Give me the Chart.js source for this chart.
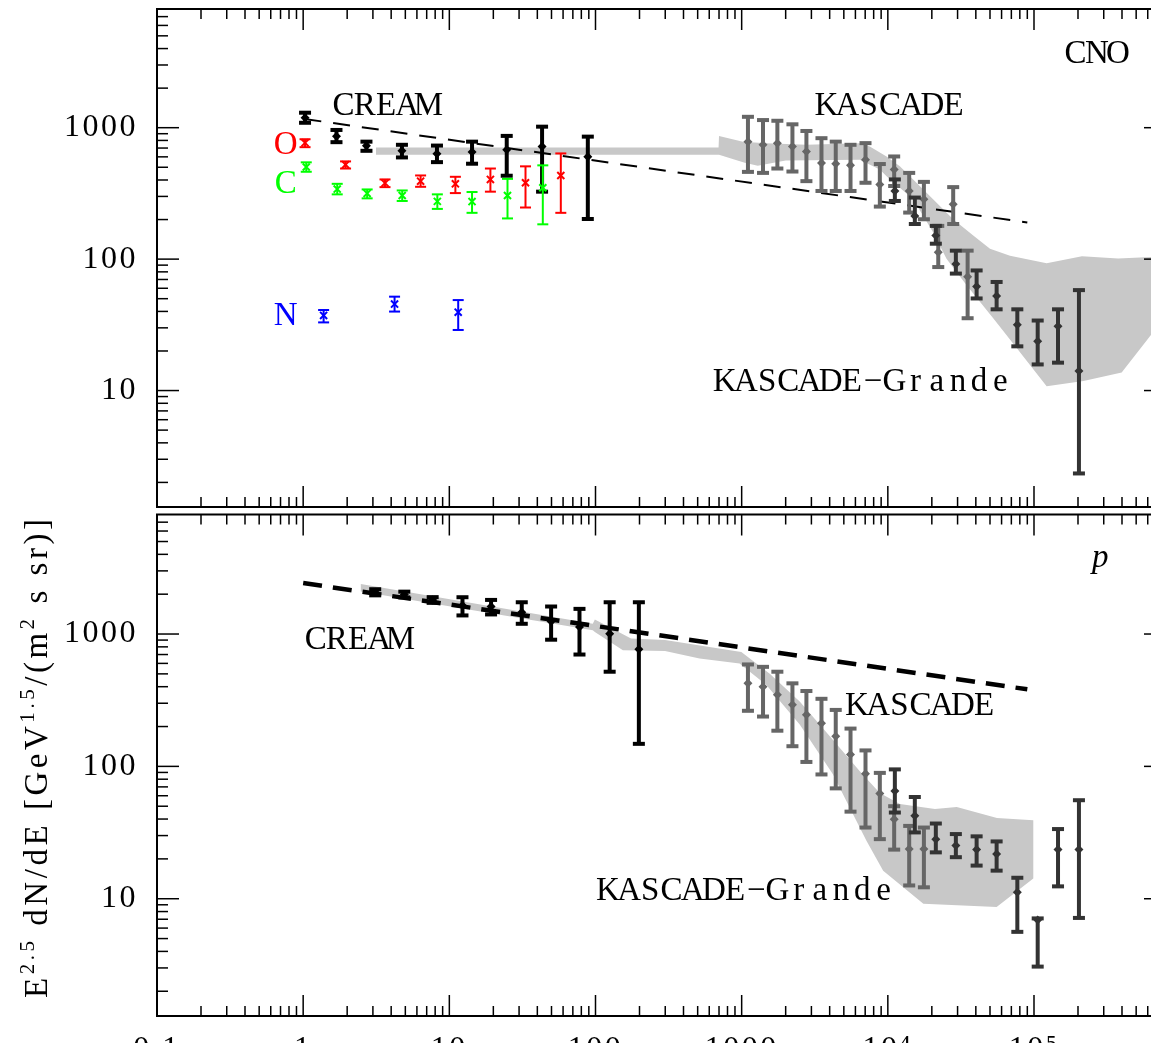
<!DOCTYPE html>
<html>
<head>
<meta charset="utf-8">
<script src="https://cdn.jsdelivr.net/npm/chart.js@4.4.1/dist/chart.umd.min.js"></script>
<style>
  html, body { margin: 0; padding: 0; background: #fff; overflow: hidden; width: 1151px; height: 1043px; }
  canvas { position: absolute; left: 0; }
  #cno { top: 0; }
  #proton { top: 510px; }
</style>
</head>
<body>
<canvas id="cno" width="1180" height="514"></canvas>
<canvas id="proton" width="1180" height="560"></canvas>
<script>
// ---------- axes (energy per particle in TeV, flux E^2.5 dN/dE) ----------
const energyMin = 0.1, energyMax = 8e5;
const fluxMin = 1.3, fluxMax = 8000;
const energyTicks = [0.1, 1, 10, 100, 1000, 1e4, 1e5];
const energyTickText = ['0.1', '1', '10', '100', '1000', '10⁴', '10⁵'];
const fluxTicks = [10, 100, 1000];

// ---------- CNO panel ----------
const cnoCreamE  = [1.03, 1.69, 2.71, 4.74, 8.23, 14.3, 24.7, 43.1, 88.6];
const cnoCreamF  = [1190, 861, 728, 667, 634, 653, 680, 720, 601];
const cnoCreamHi = [1300, 961, 783, 741, 731, 783, 866, 1018, 855];
const cnoCreamLo = [1090, 776, 667, 594, 547, 532, 431, 326, 202];

const oxygenE  = [1.03, 1.95, 3.63, 6.36, 11.0, 19.1, 33.2, 57.9];
const oxygenF  = [767, 523, 379, 392, 374, 404, 381, 433];
const oxygenHi = [817, 554, 404, 433, 423, 489, 508, 637];
const oxygenLo = [711, 489, 353, 355, 318, 326, 247, 225];

const carbonE  = [1.05, 1.71, 2.74, 4.76, 8.28, 14.3, 25.0, 43.6];
const carbonF  = [502, 341, 316, 305, 275, 274, 305, 349];
const carbonHi = [545, 374, 339, 333, 311, 324, 408, 517];
const carbonLo = [462, 311, 290, 277, 241, 225, 204, 184];

const nitrogenE  = [1.38, 4.22, 11.5];
const nitrogenF  = [37.3, 45.5, 39.5];
const nitrogenHi = [41.0, 51.8, 48.8];
const nitrogenLo = [33.0, 39.9, 28.9];

const kascadeE     = [1104, 1400, 1755, 2225, 2773, 3516, 4402, 5556, 7035, 8816, 11050, 14000, 17650, 22130, 28000, 35150];
const cnoKascadeF  = [783, 741, 763, 719, 659, 539, 532, 517, 571, 370, 480, 330, 285, 113, 261, 73.3];
const cnoKascadeHi = [1210, 1143, 1129, 1061, 944, 832, 783, 741, 763, 529, 604, 453, 387, 179, 353, 116];
const cnoKascadeLo = [461, 453, 489, 464, 392, 330, 330, 330, 381, 251, 360, 226, 201, 87, 185, 35.5];

const grandeE     = [11170, 15300, 21300, 29200, 40500, 55500, 76900, 106000, 146000, 203000];
const cnoGrandeF  = [330, 213, 151, 92, 62, 52.5, 31.6, 23.7, 30.8, 14.1];
const cnoGrandeHi = [404, 294, 179, 116, 82, 67, 41.5, 34.1, 41.5, 58.1];
const cnoGrandeLo = [277, 185, 131, 77.6, 50.2, 41.5, 21.7, 15.8, 16.3, 2.34];

const cnoFitE = [1.02, 9e4];
const cnoFitF = [1165, 190];

const cnoBandUpperE = [3.15, 695, 700, 1020, 1476, 2773, 6430, 7530, 9800, 12080, 15700, 20400, 28000, 38400, 50000, 68500, 122000, 213000, 376000, 631000, 8e5];
const cnoBandUpperF = [706, 706, 866, 783, 763, 741, 763, 719, 604, 508, 381, 285, 201, 151, 120, 106, 93, 105, 101, 104, 104];
const cnoBandLowerE = [3.15, 700, 1049, 1288, 2000, 6430, 8810, 9800, 14900, 20400, 25200, 34600, 52600, 76100, 122000, 218000, 398000, 631000, 8e5];
const cnoBandLowerF = [622, 622, 540, 514, 564, 571, 480, 428, 285, 160, 100.7, 63.2, 35.5, 21.1, 10.8, 11.8, 13.7, 26.5, 36];

// ---------- proton panel ----------
const pCreamE  = [3.11, 4.92, 7.69, 12.3, 19.3, 31.3, 49.7, 77.7, 125, 198];
const pCreamF  = [2067, 1986, 1811, 1642, 1614, 1462, 1245, 1129, 1005, 767];
const pCreamHi = [2180, 2090, 1900, 1897, 1810, 1738, 1614, 1549, 1738, 1738];
const pCreamLo = [1960, 1890, 1720, 1382, 1406, 1195, 906, 700, 519, 148];

const pKascadeE  = [1104, 1400, 1755, 2225, 2773, 3516, 4402, 5556, 7035, 8816, 11050, 14000, 17650];
const pKascadeF  = [424, 400, 347, 292, 245, 212, 169, 123, 87.9, 62.3, 39.9, 23.8, 23.8];
const pKascadeHi = [589, 565, 519, 424, 371, 324, 267, 193, 132, 89.3, 50, 35.5, 34.5];
const pKascadeLo = [263, 238, 186, 142, 108, 86.9, 68.2, 45.5, 34.5, 28.2, 23.5, 12.6, 12.2];

const pGrandeF  = [65.2, 42.3, 28.2, 25.2, 23.5, 21.8, 11.2, 6.9, 23.5, 23.5];
const pGrandeHi = [94.9, 58.7, 37, 30.8, 29.6, 27.1, 14.4, 7.1, 33.6, 55.5];
const pGrandeLo = [44.8, 31.7, 22.4, 20.6, 17.8, 16.3, 5.62, 3.07, 12.4, 7.16];

const pFitE = [1.0, 9e4];
const pFitF = [2427, 382];

const pBandUpperE = [2.48, 95.8, 99, 175, 299, 995, 1556, 2495, 4010, 6430, 8810, 12100, 21000, 29600, 55800, 98900];
const pBandUpperF = [2388, 1195, 1289, 927, 900, 733, 501, 309, 169, 92, 63, 52, 47.7, 49.4, 40.8, 39.2];
const pBandLowerE = [2.48, 95.8, 99, 154, 299, 515, 968, 1476, 2495, 4220, 5490, 7140, 9290, 17500, 55500, 98900];
const pBandLowerF = [2094, 1066, 1035, 755, 745, 653, 598, 412, 207, 86.9, 48.7, 27.4, 16.3, 9.18, 8.67, 14.2];

// ---------- colours ----------
const BAND = '#c8c8c8', GREY = '#666666', DARK = '#333333', BLACK = '#000000';
const RED = '#ff0000', GREEN = '#00ff00', BLUE = '#0000ff';

// ---------- text annotations (anchored in data coordinates) ----------
const cnoNotes = [
  { text: 'CNO', x: 163000, y: 3126 },
  { text: 'CREAM', x: 1.6, y: 1247 },
  { text: 'KASCADE', x: 3210, y: 1247 },
  { text: 'KASCADE−Grande', x: 648, y: 9.95 },
  { text: 'O', x: 0.643, y: 634, color: RED },
  { text: 'C', x: 0.643, y: 316, color: GREEN },
  { text: 'N', x: 0.643, y: 31.6, color: BLUE }
];
const protonNotes = [
  { text: 'p', x: 240000, y: 3186, italic: true },
  { text: 'CREAM', x: 1.03, y: 776 },
  { text: 'KASCADE', x: 5200, y: 245 },
  { text: 'KASCADE−Grande', x: 102.8, y: 9.8 }
];

// ---------- dataset builders ----------
const pts = (E, F) => E.map((e, i) => ({ x: e, y: F[i] }));

function heavySeries(E, F, hi, lo, color, order) {
  return { data: pts(E, F), errHi: hi, errLo: lo, showLine: false,
    borderColor: color, backgroundColor: color, pointStyle: 'rectRot', pointRadius: 4.5,
    pointBorderWidth: 0, errWidth: 4, capWidth: 12, capThick: 4, order };
}
function lightSeries(E, F, hi, lo, color, order) {
  return { data: pts(E, F), errHi: hi, errLo: lo, showLine: false,
    borderColor: color, backgroundColor: color, pointStyle: 'crossRot', pointRadius: 5,
    pointBorderWidth: 2, errWidth: 2, capWidth: 11, capThick: 2, order };
}
function band(upE, upF, loE, loF) {
  const ring = pts(upE, upF).concat(pts(loE, loF).reverse());
  return { data: ring, showLine: true, fill: 'shape', backgroundColor: BAND,
    borderColor: 'rgba(0,0,0,0)', borderWidth: 0, pointRadius: 0, tension: 0, order: 20 };
}
function fitLine(E, F, width, dash) {
  return { data: pts(E, F), showLine: true, fill: false, borderColor: BLACK, borderWidth: width,
    borderDash: dash, pointRadius: 0, tension: 0, order: 15 };
}

// ---------- plugins ----------
const textCell = 21.2;
const labelFont = { family: 'Liberation Serif', size: 32 };

const errorBars = {
  id: 'errorBars',
  afterDatasetDraw(chart, args) {
    const ds = chart.data.datasets[args.index];
    if (!ds.errHi) return;
    const { ctx, chartArea: a, scales: { x, y } } = chart;
    ctx.save();
    ctx.beginPath();
    ctx.rect(a.left, a.top, a.right - a.left, a.bottom - a.top);
    ctx.clip();
    ctx.strokeStyle = ds.borderColor;
    ctx.fillStyle = ds.borderColor;
    ctx.lineWidth = ds.errWidth;
    ds.data.forEach((p, i) => {
      const px = x.getPixelForValue(p.x);
      const yh = y.getPixelForValue(ds.errHi[i]);
      const yl = y.getPixelForValue(ds.errLo[i]);
      ctx.beginPath(); ctx.moveTo(px, yh); ctx.lineTo(px, yl); ctx.stroke();
      ctx.fillRect(px - ds.capWidth / 2, yh - ds.capThick / 2, ds.capWidth, ds.capThick);
      ctx.fillRect(px - ds.capWidth / 2, yl - ds.capThick / 2, ds.capWidth, ds.capThick);
    });
    ctx.restore();
  }
};

function drawNotes(chart, notes) {
  const { ctx, scales: { x, y } } = chart;
  ctx.save();
  ctx.letterSpacing = '0px';
  ctx.textAlign = 'center';
  ctx.textBaseline = 'alphabetic';
  notes.forEach(n => {
    ctx.font = (n.italic ? 'italic ' : '') + '33px "Liberation Serif"';
    ctx.fillStyle = n.color || BLACK;
    const left = x.getPixelForValue(n.x), base = y.getPixelForValue(n.y);
    [...n.text].forEach((ch, i) => ctx.fillText(ch, left + textCell * (i + 0.5), base));
  });
  ctx.restore();
}

function drawFrame(chart) {
  const { ctx, chartArea: a, scales: { x, y } } = chart;
  ctx.save();
  ctx.strokeStyle = BLACK;
  ctx.lineWidth = 2;
  ctx.strokeRect(a.left, a.top, a.right - a.left, a.bottom - a.top);
  ctx.lineWidth = 1.5;
  const seg = (x1, y1, x2, y2) => { ctx.beginPath(); ctx.moveTo(x1, y1); ctx.lineTo(x2, y2); ctx.stroke(); };
  for (let d = -1; d <= 5; d++) {
    for (let m = 1; m <= 9; m++) {
      const v = m * Math.pow(10, d);
      if (v < energyMin * 0.999 || v > energyMax * 0.999) continue;
      const px = x.getPixelForValue(v);
      const len = m === 1 ? 21 : 10;
      seg(px, a.top, px, a.top + len);
      seg(px, a.bottom, px, a.bottom - len);
    }
  }
  for (let d = 0; d <= 3; d++) {
    for (let m = 1; m <= 9; m++) {
      const v = m * Math.pow(10, d);
      if (v < fluxMin || v > fluxMax * 0.999) continue;
      const py = y.getPixelForValue(v);
      const len = m === 1 ? 22 : 11;
      seg(a.left, py, a.left + len, py);
      seg(a.right, py, a.right - len, py);
    }
  }
  ctx.restore();
}

function drawTitle(chart) {
  const ctx = chart.ctx;
  const parts = [['E', 0], ['2.5', 1], [' dN/dE [GeV', 0], ['1.5', 1], ['/(m', 0], ['2', 1], [' s sr)]', 0]];
  const mainFont = '33px "Liberation Serif"', supFont = '21px "Liberation Serif"';
  ctx.save();
  ctx.letterSpacing = '0px';
  let natural = 0, count = 0;
  parts.forEach(([t, sup]) => {
    ctx.font = sup ? supFont : mainFont;
    for (const ch of t) { natural += ctx.measureText(ch).width; count++; }
  });
  const span = 479;
  const gap = (span - natural) / (count - 1);
  ctx.translate(47, 998 - 510);
  ctx.rotate(-Math.PI / 2);
  ctx.fillStyle = BLACK;
  ctx.textAlign = 'left';
  ctx.textBaseline = 'alphabetic';
  let pos = 0;
  parts.forEach(([t, sup]) => {
    ctx.font = sup ? supFont : mainFont;
    for (const ch of t) {
      ctx.fillText(ch, pos, sup ? -13 : 0);
      pos += ctx.measureText(ch).width + gap;
    }
  });
  ctx.restore();
}

const decorations = {
  id: 'decorations',
  beforeDraw(chart) { chart.ctx.letterSpacing = '2.5px'; },
  afterDraw(chart, args, opts) {
    chart.ctx.letterSpacing = '0px';
    drawFrame(chart);
    drawNotes(chart, opts.notes || []);
    if (opts.title) drawTitle(chart);
  }
};

// ---------- shared scale setup ----------
function fluxAxis() {
  return {
    type: 'logarithmic', position: 'left', min: fluxMin, max: fluxMax,
    grid: { display: false, drawTicks: false }, border: { display: false },
    afterBuildTicks: s => { s.ticks = fluxTicks.map(v => ({ value: v })); },
    afterFit: s => { s.width = 157; s.paddingTop = 0; s.paddingBottom = 0; },
    ticks: { autoSkip: false, padding: 19, color: BLACK, font: labelFont, callback: v => String(v) }
  };
}

function makeChart(id, datasets, xAxis, padding, notes, title) {
  return new Chart(document.getElementById(id), {
    type: 'line',
    data: { datasets },
    options: {
      responsive: false, animation: false, devicePixelRatio: 1, events: [],
      layout: { padding },
      scales: { x: xAxis, y: fluxAxis() },
      plugins: { legend: { display: false }, tooltip: { enabled: false },
                 decorations: { notes, title } }
    },
    plugins: [errorBars, decorations]
  });
}

// ---------- CNO panel ----------
makeChart('cno', [
  band(cnoBandUpperE, cnoBandUpperF, cnoBandLowerE, cnoBandLowerF),
  fitLine(cnoFitE, cnoFitF, 2, [17, 12]),
  heavySeries(kascadeE, cnoKascadeF, cnoKascadeHi, cnoKascadeLo, GREY, 6),
  heavySeries(grandeE, cnoGrandeF, cnoGrandeHi, cnoGrandeLo, DARK, 5),
  heavySeries(cnoCreamE, cnoCreamF, cnoCreamHi, cnoCreamLo, BLACK, 4),
  lightSeries(oxygenE, oxygenF, oxygenHi, oxygenLo, RED, 3),
  lightSeries(nitrogenE, nitrogenF, nitrogenHi, nitrogenLo, BLUE, 3),
  lightSeries(carbonE, carbonF, carbonHi, carbonLo, GREEN, 2)
], { type: 'logarithmic', min: energyMin, max: energyMax, display: false },
   { top: 9, bottom: 2, left: 0, right: 14 }, cnoNotes, false);

// ---------- proton panel ----------
makeChart('proton', [
  band(pBandUpperE, pBandUpperF, pBandLowerE, pBandLowerF),
  fitLine(pFitE, pFitF, 4.5, [19, 11]),
  heavySeries(pKascadeE, pKascadeF, pKascadeHi, pKascadeLo, GREY, 6),
  heavySeries(grandeE, pGrandeF, pGrandeHi, pGrandeLo, DARK, 5),
  heavySeries(pCreamE, pCreamF, pCreamHi, pCreamLo, BLACK, 4)
], {
  type: 'logarithmic', position: 'bottom', min: energyMin, max: energyMax,
  grid: { display: false, drawTicks: false }, border: { display: false },
  afterBuildTicks: s => { s.ticks = energyTicks.map(v => ({ value: v })); },
  afterFit: s => { s.height = 54; s.paddingLeft = 0; s.paddingRight = 0; },
  ticks: { autoSkip: false, maxRotation: 0, padding: 14, color: BLACK, font: labelFont,
           callback: (v, i) => energyTickText[i] }
}, { top: 2, bottom: 0, left: 0, right: 14 }, protonNotes, true);
</script>
</body>
</html>
